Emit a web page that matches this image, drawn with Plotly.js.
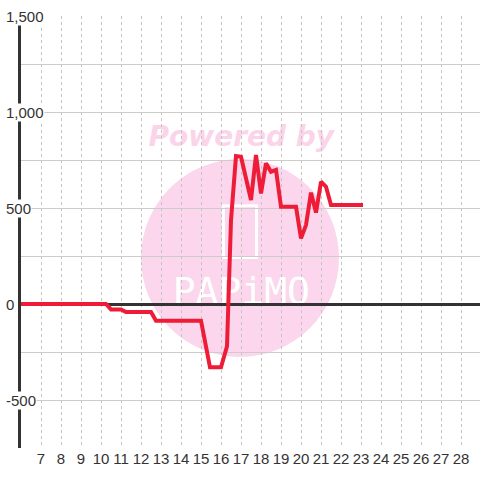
<!DOCTYPE html>
<html>
<head>
<meta charset="utf-8">
<script src="https://cdn.plot.ly/plotly-3.0.1.min.js"></script>
<style>html,body{margin:0;padding:0;background:#fff;}#chart{width:480px;height:480px;}</style>
</head>
<body>
<div id="chart"></div>
<script>
// Data
const xValues = [6, 10.25, 10.5, 11.0, 11.25, 12.5, 12.75, 15.0, 15.45, 16.0, 16.3, 16.5, 16.75, 17.0, 17.5, 17.75, 18.0, 18.25, 18.5, 18.75, 19.0, 19.75, 20.0, 20.25, 20.5, 20.75, 21.0, 21.25, 21.5, 23.1];
const yValues = [0, 0, -28, -28, -42, -42, -87, -87, -330, -330, -220, 437, 771, 767, 542, 776, 576, 733, 689, 698, 507, 507, 342, 411, 580, 476, 637, 611, 516, 516];
const xTickVals = [7, 8, 9, 10, 11, 12, 13, 14, 15, 16, 17, 18, 19, 20, 21, 22, 23, 24, 25, 26, 27, 28];
const xTickText = ['7','8','9','10','11','12','13','14','15','16','17','18','19','20','21','22','23','24','25','26','27','28'];
const yTickVals = [1500, 1000, 500, 0, -500];
const yTickText = ['1,500', '1,000', '500', '0', '-500'];
const watermarkTop = 'Powered by';
const watermarkLogo = 'PAPiMO';

const textColor = '#333333';
const font = 'Liberation Sans, Arial, sans-serif';

const trace = {
  x: xValues, y: yValues, type: 'scatter', mode: 'lines',
  line: {color: '#ee1c36', width: 4},
  hoverinfo: 'skip'
};

const annotations = yTickVals.map((v, i) => ({
  xref: 'paper', yref: 'y', x: 0, y: v, xanchor: 'left', yanchor: 'middle',
  xshift: -16, text: yTickText[i], showarrow: false,
  bgcolor: '#ffffff', borderpad: 0,
  font: {family: font, size: 15, color: textColor}
}));

const shapes = [
  {type: 'circle', xref: 'paper', yref: 'paper', x0: 0.2614, x1: 0.6928, y0: 0.2106, y1: 0.669,
   fillcolor: '#fbd6ec', line: {width: 0}, layer: 'below'},
  {type: 'rect', xref: 'paper', yref: 'paper', x0: 0.441, x1: 0.513, y0: 0.441, y1: 0.561,
   fillcolor: 'rgba(0,0,0,0)', line: {color: '#ffffff', width: 3}, layer: 'below'},
  {type: 'rect', xref: 'paper', yref: 'paper', x0: 0.28, x1: 0.68, y0: 0.68, y1: 0.77,
   fillcolor: 'rgba(0,0,0,0)', line: {width: 0}, layer: 'below',
   label: {text: watermarkTop, textposition: 'middle center',
           font: {family: 'DejaVu Sans', size: 28, color: '#fcd4ea', weight: 'bold', style: 'italic'}}},
  {type: 'rect', xref: 'paper', yref: 'paper', x0: 0.30, x1: 0.66, y0: 0.32, y1: 0.42,
   fillcolor: 'rgba(0,0,0,0)', line: {width: 0}, layer: 'below',
   label: {text: watermarkLogo, textposition: 'middle center',
           font: {family: 'DejaVu Sans Mono', size: 38, color: '#ffffff'}}}
];

const layout = {
  width: 480, height: 480,
  margin: {l: 21, r: 0, t: 16, b: 32, pad: 0},
  paper_bgcolor: '#ffffff', plot_bgcolor: '#ffffff',
  showlegend: false,
  xaxis: {
    range: [6, 28.95], tickmode: 'array', tickvals: xTickVals, ticktext: xTickText,
    showgrid: true, gridcolor: '#c4c4c4', griddash: 'dot', gridwidth: 1,
    zeroline: false, showline: false, ticks: '',
    tickfont: {family: font, size: 15, color: textColor}, fixedrange: true
  },
  yaxis: {
    range: [-750, 1500], tick0: 0, dtick: 250, showticklabels: false,
    showgrid: true, gridcolor: '#cccccc', gridwidth: 1,
    zeroline: true, zerolinecolor: '#333333', zerolinewidth: 3,
    showline: true, linecolor: '#333333', linewidth: 3, ticks: '', fixedrange: true
  },
  annotations: annotations,
  shapes: shapes
};

Plotly.newPlot('chart', [trace], layout, {displayModeBar: false, staticPlot: true});
</script>
</body>
</html>
